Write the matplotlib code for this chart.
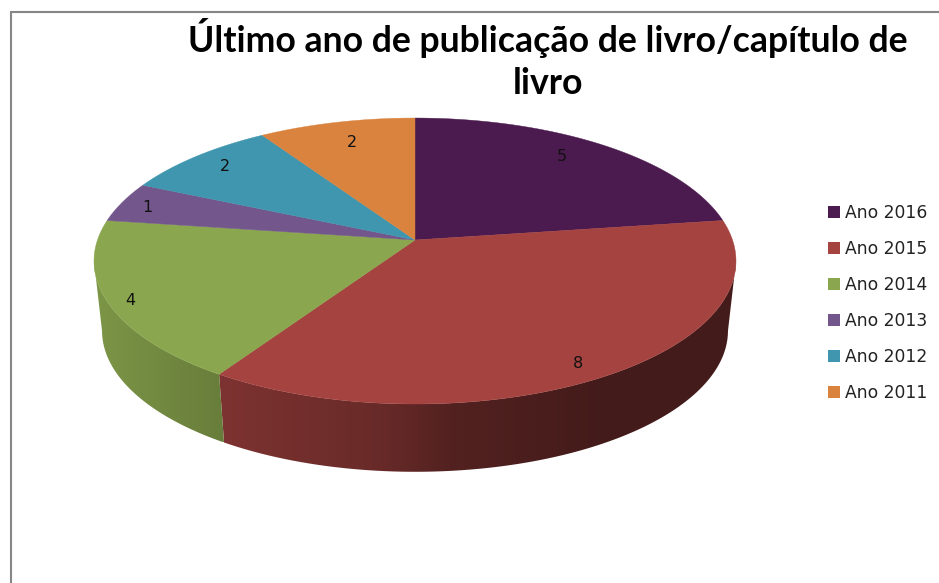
import matplotlib
matplotlib.use('Agg')
import matplotlib.pyplot as plt
from matplotlib.patches import Patch, Polygon
import numpy as np

# values
years = ['Ano 2016', 'Ano 2015', 'Ano 2014', 'Ano 2013', 'Ano 2012', 'Ano 2011']
counts = [5, 8, 4, 1, 2, 2]
colors = ['#4B1A4E', '#A54340', '#8AA64E', '#73568C', '#3F96AE', '#D9833E']
title = 'Último ano de publicação de livro/capítulo de\nlivro'

# pie geometry in pixels, with a bit of perspective (k)
CX = 415
TOP_Y = 240
BOTTOM_Y = 310
A = 317.5
B = 139.9
K = 0.147
BOTTOM_SCALE = 0.975
BOTTOM_B = 138

# label placement: fraction of radius and a nudge in pixels
label_r = [0.87, 0.93, 0.90, 0.85, 0.83, 0.82]
label_nudge = [(-18, 0), (-17, 0), (-10, 5), (-17, 0), (-6, -3), (3, 1)]


def top_xy(theta, r=1.0):
    d = 1 + K * r * np.cos(theta)
    return CX + A * r * np.sin(theta) / d, TOP_Y - B * r * np.cos(theta) / d


def bottom_xy(theta):
    d = 1 + K * np.cos(theta)
    return CX + BOTTOM_SCALE * A * np.sin(theta) / d, BOTTOM_Y - BOTTOM_B * np.cos(theta) / d


def side_shade(x):
    return np.interp(x, [94, 219, 380, 450, 600], [0.90, 0.76, 0.63, 0.50, 0.41])


fig = plt.figure(figsize=(9.39, 5.83), dpi=100)
ax = fig.add_axes([0, 0, 1, 1])

# frame of the chart area, open on the right and at the bottom
ax.plot([11, 11, 939], [583, 12, 12], color='#868686', lw=1.5, solid_joinstyle='miter')

edges = np.cumsum([0] + counts) / sum(counts) * 2 * np.pi

# side walls: a horizontal gradient clipped to the outline of each slice
for i in range(len(counts)):
    t = np.linspace(edges[i], edges[i + 1], 400)
    t = t[np.cos(t) < -K]  # only the part that faces the viewer
    if len(t) < 2:
        continue
    xt, yt = top_xy(t)
    xb, yb = bottom_xy(t)
    outline = np.c_[np.r_[xt, xb[::-1]], np.r_[yt, yb[::-1]]]
    x_span = np.arange(np.floor(outline[:, 0].min()), np.ceil(outline[:, 0].max()) + 1)
    base = np.array(matplotlib.colors.to_rgb(colors[i]))
    grad = side_shade(x_span)[None, :, None] * base[None, None, :]
    im = ax.imshow(grad, extent=(x_span[0], x_span[-1], outline[:, 1].max(), outline[:, 1].min()),
                   aspect='auto', zorder=2, interpolation='bilinear')
    patch = Polygon(outline, closed=True, transform=ax.transData, facecolor='none', edgecolor='none')
    ax.add_patch(patch)
    im.set_clip_path(patch)

# top faces
for i in range(len(counts)):
    t = np.linspace(edges[i], edges[i + 1], 200)
    x, y = top_xy(t)
    ax.fill(np.r_[CX, x], np.r_[TOP_Y, y], color=colors[i], lw=0.3, zorder=3)

# value labels
for i, v in enumerate(counts):
    mid = (edges[i] + edges[i + 1]) / 2
    x, y = top_xy(mid, label_r[i])
    ax.text(x + label_nudge[i][0], y + label_nudge[i][1], str(v), fontsize=11.5,
            family='DejaVu Sans', ha='center', va='center', color='#111111', zorder=4)

ax.text(548, 59, title, fontsize=25.7, fontweight='bold', family='Lato',
        ha='center', va='center', linespacing=1.33, color='black')

handles = [Patch(facecolor=c, edgecolor='none', label=n) for c, n in zip(colors, years)]
ax.legend(handles=handles, loc='center left', bbox_to_anchor=(828 / 939, 1 - 303 / 583),
          frameon=False, prop={'family': 'DejaVu Sans', 'size': 12.3},
          handlelength=0.7, handleheight=0.7,
          handletextpad=0.3, labelspacing=1.05, borderpad=0, borderaxespad=0,
          labelcolor='#222222')

ax.set_xlim(0, 939)
ax.set_ylim(583, 0)
ax.axis('off')

fig.savefig('out.png', dpi=100)
